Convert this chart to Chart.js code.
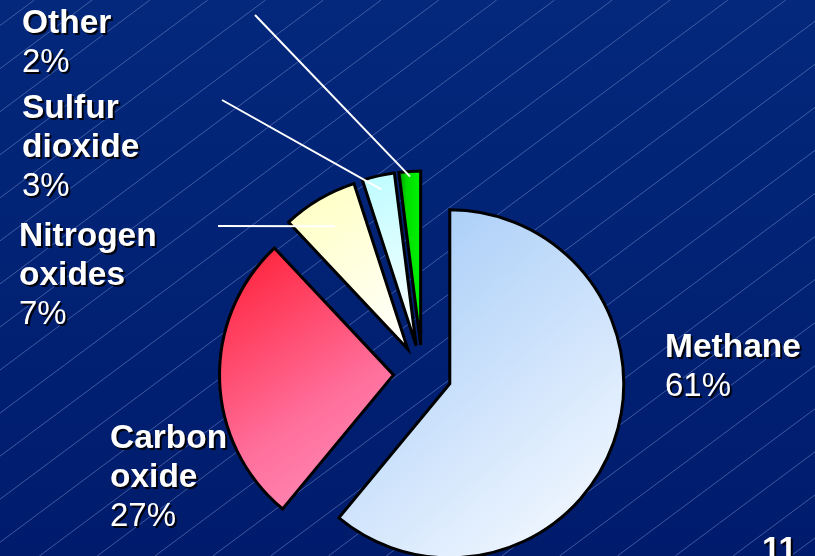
<!DOCTYPE html>
<html>
<head>
<meta charset="utf-8">
<script src="https://cdn.jsdelivr.net/npm/chart.js@4.4.1/dist/chart.umd.min.js"></script>
<style>
  html, body { margin: 0; padding: 0; overflow: hidden; background: #022579; }
  #wrap { position: relative; width: 815px; height: 556px; }
  #slide-no {
    position: absolute; left: 762px; top: 532px;
    font: bold 33px "Liberation Sans", Arial, sans-serif; line-height: 33px;
    color: #fff; text-shadow: 2px 2px 0 #000;
  }
</style>
</head>
<body>
<div id="wrap">
  <canvas id="pie" width="815" height="556"></canvas>
  <div id="slide-no">11</div>
</div>
<script>
// data
var categories = ['Methane', 'Carbon oxide', 'Nitrogen oxides', 'Sulfur dioxide', 'Other'];
var shares = [61, 27, 7, 3, 2];

// look
var EXPLODE = 29;
var RADIUS = 174;
var sliceStops = [
    [[0, '#9fc8f6'], [0.55, '#d0e4fc'], [1, '#fbfdff']],
    [[0, '#ff1c32'], [0.6, '#ff6f9c'], [1, '#ff92be']],
    [[0, '#ffffbe'], [1, '#ffffff']],
    [[0, '#bdfcff'], [1, '#ffffff']],
    [[0, '#009400'], [0.35, '#00dc00'], [1, '#00f400']]
];
var labelSpots = [
    { x: 665, y: 357 },
    { x: 110, y: 448 },
    { x: 19, y: 246 },
    { x: 22, y: 118 },
    { x: 22, y: 33 }
];
var leaders = [
    { index: 2, from: [218, 226], depth: 0.82 },
    { index: 3, from: [222, 100], depth: 0.92 },
    { index: 4, from: [255, 15], depth: 0.97 }
];
var LINE_GAP = 39;

function sliceGradient(c) {
    if (c.type !== 'data') return '#ffffff';
    var i = c.dataIndex;
    var chart = c.chart;
    var area = chart.chartArea;
    var stops = sliceStops[i];
    if (!area) return stops[0][1];
    var total = shares.reduce(function (a, b) { return a + b; }, 0);
    var before = 0;
    for (var j = 0; j < i; j++) before += shares[j];
    var a0 = -Math.PI / 2 + before / total * Math.PI * 2;
    var a1 = a0 + shares[i] / total * Math.PI * 2;
    var mid = (a0 + a1) / 2;
    var cx = (area.left + area.right) / 2 + Math.cos(mid) * EXPLODE;
    var cy = (area.top + area.bottom) / 2 + Math.sin(mid) * EXPLODE;
    var minX = cx, maxX = cx, minY = cy, maxY = cy;
    for (var k = 0; k <= 40; k++) {
        var a = a0 + (a1 - a0) * k / 40;
        var px = cx + Math.cos(a) * RADIUS, py = cy + Math.sin(a) * RADIUS;
        minX = Math.min(minX, px); maxX = Math.max(maxX, px);
        minY = Math.min(minY, py); maxY = Math.max(maxY, py);
    }
    var g;
    if (i === 4) g = chart.ctx.createLinearGradient(minX, 0, maxX, 0);
    else g = chart.ctx.createLinearGradient(minX, minY, maxX, maxY);
    stops.forEach(function (s) { g.addColorStop(s[0], s[1]); });
    return g;
}

var slideBackground = {
    id: 'slideBackground',
    beforeDraw: function (chart) {
        var ctx = chart.ctx, w = chart.width, h = chart.height;
        ctx.save();
        var g = ctx.createLinearGradient(0, 0, 0, h);
        g.addColorStop(0, '#03287c');
        g.addColorStop(1, '#001b6c');
        ctx.fillStyle = g;
        ctx.fillRect(0, 0, w, h);
        ctx.strokeStyle = 'rgba(125, 145, 205, 0.5)';
        ctx.lineWidth = 1;
        var slope = 0.745;
        for (var k = -12; k <= 20; k++) {
            var x0 = 496.7 + 57.8 * k;
            ctx.beginPath();
            ctx.moveTo(x0, 0);
            ctx.lineTo(x0 - h / slope, h);
            ctx.stroke();
        }
        ctx.restore();
    }
};

var explodeSlices = {
    id: 'explodeSlices',
    afterDatasetsUpdate: function (chart) {
        chart.getDatasetMeta(0).data.forEach(function (arc) {
            var mid = (arc.startAngle + arc.endAngle) / 2;
            arc.x += Math.cos(mid) * EXPLODE;
            arc.y += Math.sin(mid) * EXPLODE;
        });
    }
};

var sliceLabels = {
    id: 'sliceLabels',
    afterDatasetsDraw: function (chart) {
        var ctx = chart.ctx;
        var arcs = chart.getDatasetMeta(0).data;
        ctx.save();
        ctx.strokeStyle = '#ffffff';
        ctx.lineWidth = 2;
        leaders.forEach(function (l) {
            var arc = arcs[l.index];
            var mid = (arc.startAngle + arc.endAngle) / 2;
            var r = arc.outerRadius * l.depth;
            ctx.beginPath();
            ctx.moveTo(l.from[0], l.from[1]);
            ctx.lineTo(arc.x + Math.cos(mid) * r, arc.y + Math.sin(mid) * r);
            ctx.stroke();
        });
        ctx.fillStyle = '#ffffff';
        ctx.textBaseline = 'alphabetic';
        ctx.textAlign = 'left';
        ctx.shadowColor = 'rgba(0,0,0,0.9)';
        ctx.shadowOffsetX = 2;
        ctx.shadowOffsetY = 2;
        ctx.shadowBlur = 0;
        categories.forEach(function (name, i) {
            var spot = labelSpots[i];
            var lines = name.split(' ');
            ctx.font = 'bold 33.5px "Liberation Sans", Arial, sans-serif';
            lines.forEach(function (t, n) {
                ctx.fillText(t, spot.x, spot.y + n * LINE_GAP);
            });
            ctx.font = '33px "Liberation Sans", Arial, sans-serif';
            ctx.fillText(shares[i] + '%', spot.x, spot.y + lines.length * LINE_GAP);
        });
        ctx.restore();
    }
};

new Chart(document.getElementById('pie').getContext('2d'), {
    type: 'pie',
    data: {
        labels: categories,
        datasets: [{
            data: shares,
            radius: RADIUS,
            backgroundColor: sliceGradient,
            borderColor: '#000000',
            borderWidth: 3,
            borderJoinStyle: 'miter',
            clip: false
        }]
    },
    options: {
        responsive: false,
        animation: false,
        events: [],
        layout: { padding: { left: 30, right: 0, top: 192, bottom: 0 } },
        plugins: {
            legend: { display: false },
            tooltip: { enabled: false }
        }
    },
    plugins: [slideBackground, explodeSlices, sliceLabels]
});
</script>
</body>
</html>
